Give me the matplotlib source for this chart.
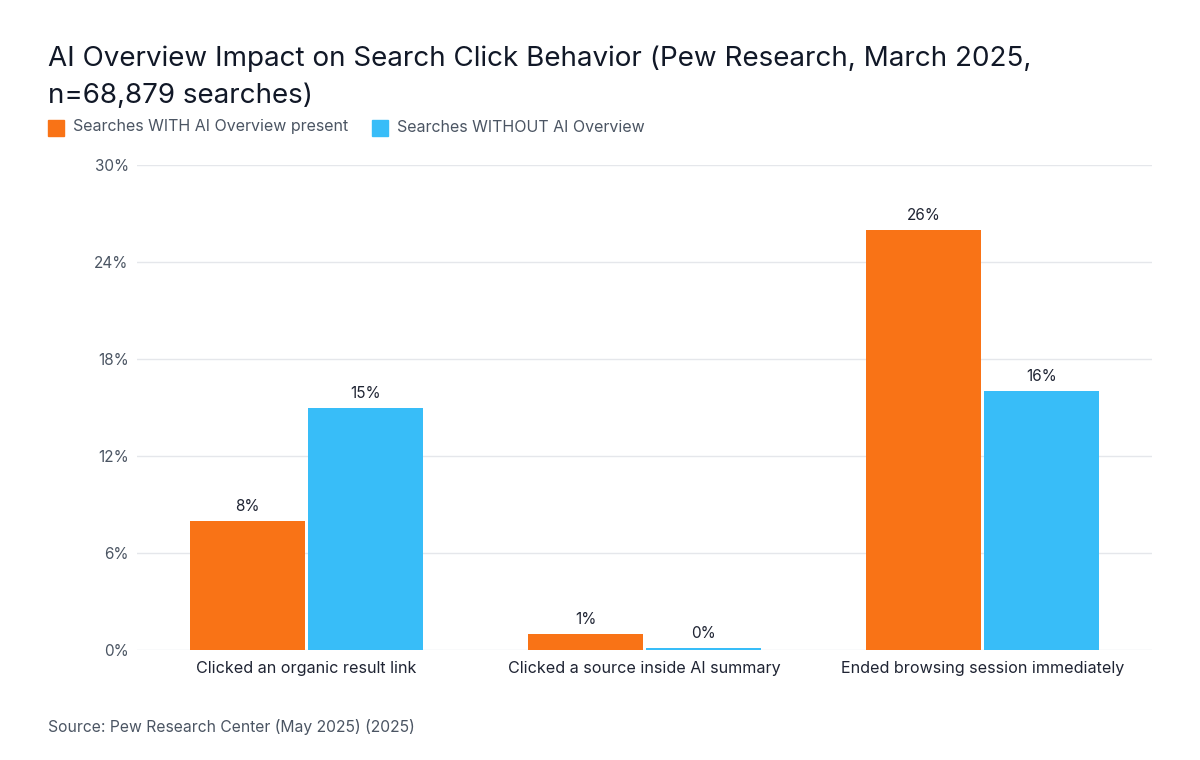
import matplotlib
matplotlib.use("Agg")
import matplotlib.pyplot as plt
import numpy as np
from matplotlib.patches import Rectangle

categories = ["Clicked an organic result link", "Clicked a source inside AI summary", "Ended browsing session immediately"]
with_ai = [8, 1, 26]
without_ai = [15, 0.1, 16]
series_names = ["Searches WITH AI Overview present", "Searches WITHOUT AI Overview"]
yticks = [0, 6, 12, 18, 24, 30]

plt.rcParams['font.family'] = ['Inter', 'DejaVu Sans']

fig = plt.figure(figsize=(12, 7.6), dpi=100)
ax = fig.add_axes([0.1142, 0.1447, 0.8458, 0.6382])

orange = "#F97316"
blue = "#38BDF8"
x = np.arange(len(categories))
w = 0.34
off = 0.1745
b1 = ax.bar(x - off, with_ai, w, color=orange, linewidth=0, zorder=3)
b2 = ax.bar(x + off, without_ai, w, color=blue, linewidth=0, zorder=3)

for bars, vals in ((b1, with_ai), (b2, without_ai)):
    for r, v in zip(bars, vals):
        ax.annotate(f"{v:.0f}%", (r.get_x() + r.get_width()/2, r.get_height()),
                    xytext=(0, 5), textcoords="offset points", ha="center", va="bottom",
                    fontsize=11, color="#1f2433")

ax.set_xlim(-0.5, 2.5)
ax.set_ylim(0, 30)
ax.set_yticks(yticks)
ax.set_yticklabels([f"{t}%" for t in yticks])
ax.set_xticks(x)
ax.set_xticklabels(categories)
ax.tick_params(axis='y', length=0, pad=6, labelsize=11, labelcolor="#4b5563")
ax.tick_params(axis='x', length=0, pad=8, labelsize=11.6, labelcolor="#1f2433")
ax.grid(axis='y', color="#e5e7eb", linewidth=1, zorder=0)
for s in ax.spines.values():
    s.set_visible(False)

fig.text(0.040, 1-77/760, "AI Overview Impact on Search Click Behavior (Pew Research, March 2025,\nn=68,879 searches)",
         fontsize=20, color="#111827", ha="left", va="center", linespacing=1.53)

# legend
fig.patches.append(Rectangle((48/1200, 1-136/760), 16/1200, 16/760, transform=fig.transFigure, color=orange))
fig.text(73/1200, 1-127/760, series_names[0], fontsize=11.5, color="#4b5563", va="center")
fig.patches.append(Rectangle((372/1200, 1-136/760), 16/1200, 16/760, transform=fig.transFigure, color=blue))
fig.text(397/1200, 1-127/760, series_names[1], fontsize=11.5, color="#4b5563", va="center")

fig.text(48/1200, 1-727/760, "Source: Pew Research Center (May 2025) (2025)", fontsize=11.3, color="#4b5563", va="center")

fig.savefig("out.png", dpi=100, facecolor="white")
